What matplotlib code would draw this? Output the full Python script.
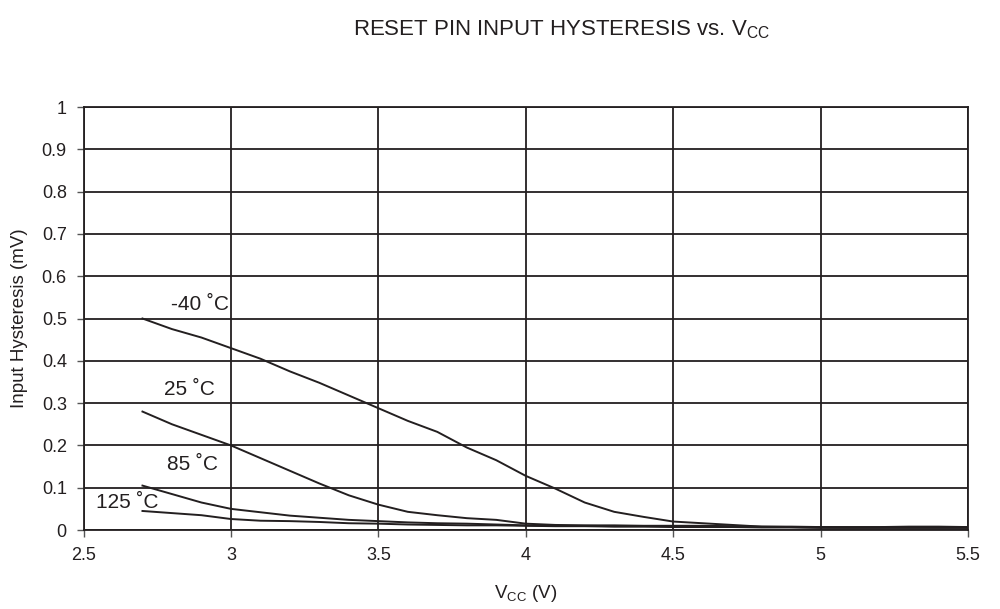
import matplotlib
matplotlib.use("Agg")
import matplotlib.pyplot as plt

plt.rcParams['font.family'] = ['Liberation Sans', 'DejaVu Sans']

vcc = [2.7, 2.8, 2.9, 3.0, 3.1, 3.2, 3.3, 3.4, 3.5, 3.6, 3.7, 3.8, 3.9, 4.0,
       4.1, 4.2, 4.3, 4.4, 4.5, 4.6, 4.7, 4.8, 4.9, 5.0, 5.1, 5.2, 5.3, 5.4, 5.5]
hyst_m40 = [0.50, 0.475, 0.455, 0.43, 0.405, 0.375, 0.348, 0.318, 0.288, 0.258, 0.232, 0.195,
            0.165, 0.128, 0.098, 0.065, 0.043, 0.031, 0.020, 0.016, 0.012, 0.008, 0.008,
            0.007, 0.007, 0.007, 0.008, 0.008, 0.007]
hyst_25 = [0.28, 0.25, 0.225, 0.20, 0.17, 0.14, 0.11, 0.082, 0.060, 0.043, 0.035, 0.028,
           0.024, 0.015, 0.012, 0.011, 0.011, 0.010, 0.010, 0.010, 0.009, 0.008, 0.007,
           0.007, 0.006, 0.006, 0.006, 0.006, 0.006]
hyst_85 = [0.105, 0.085, 0.065, 0.050, 0.042, 0.034, 0.029, 0.024, 0.021, 0.018, 0.016, 0.015,
           0.013, 0.011, 0.010, 0.010, 0.009, 0.009, 0.009, 0.009, 0.008, 0.007, 0.007,
           0.006, 0.006, 0.006, 0.006, 0.006, 0.006]
hyst_125 = [0.045, 0.040, 0.035, 0.026, 0.022, 0.021, 0.019, 0.016, 0.015, 0.013, 0.012, 0.011,
            0.011, 0.010, 0.009, 0.009, 0.008, 0.008, 0.007, 0.007, 0.007, 0.006, 0.006,
            0.005, 0.005, 0.005, 0.005, 0.005, 0.005]

series = [hyst_m40, hyst_25, hyst_85, hyst_125]
labels = ['-40 ˚C', '25 ˚C', '85 ˚C', '125 ˚C']
label_pos = [(2.895, 0.532), (2.86, 0.331), (2.87, 0.154), (2.65, 0.066)]

xticks = [2.5, 3, 3.5, 4, 4.5, 5, 5.5]
xticklabels = ['2.5', '3', '3.5', '4', '4.5', '5', '5.5']
yticks = [0, 0.1, 0.2, 0.3, 0.4, 0.5, 0.6, 0.7, 0.8, 0.9, 1]
yticklabels = ['0', '0.1', '0.2', '0.3', '0.4', '0.5', '0.6', '0.7', '0.8', '0.9', '1']

fig = plt.figure(figsize=(10, 6.09), dpi=100)
ax = fig.add_axes([0.0835, 0.1297, 0.8845, 0.6946])

for s in series:
    ax.plot(vcc, s, color='#231f20', lw=1.4)

for lab, (x, y) in zip(labels, label_pos):
    ax.text(x, y, lab, fontsize=15, ha='center', va='center', color='#231f20')

ax.set_xlim(2.5, 5.5)
ax.set_ylim(0, 1)
ax.set_xticks(xticks)
ax.set_xticklabels(xticklabels, fontsize=13)
ax.set_yticks(yticks)
ax.set_yticklabels(yticklabels, fontsize=13)
ax.grid(True, color='#231f20', lw=1.3)
ax.tick_params(direction='out', length=5, width=1, color='#555555', pad=7, labelcolor='#231f20')
for sp in ax.spines.values():
    sp.set_color('#231f20')
    sp.set_linewidth(1.3)

ax.set_xlabel('V$_{\\mathregular{CC}}$ (V)', fontsize=13.5, labelpad=14, color='#231f20')
ax.set_ylabel('Input Hysteresis (mV)', fontsize=13.5, labelpad=10, color='#231f20')
fig.text(0.562, 0.951, 'RESET PIN INPUT HYSTERESIS vs. V$_{\\mathregular{CC}}$',
         ha='center', va='center', fontsize=16, color='#231f20')

fig.savefig('out.png', dpi=100)
